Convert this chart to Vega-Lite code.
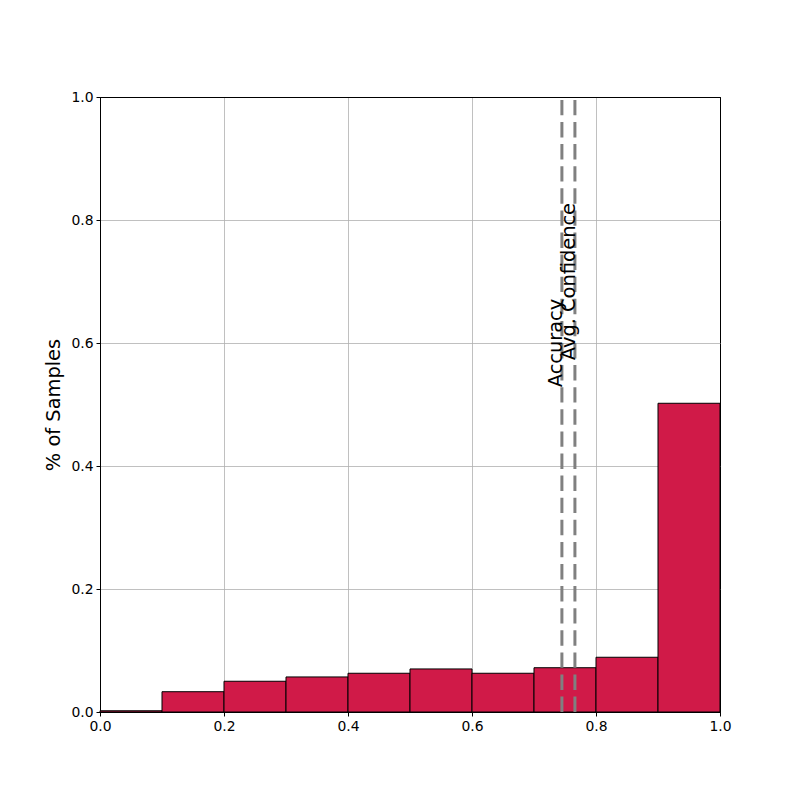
{
  "$schema": "https://vega.github.io/schema/vega-lite/v6.json",
  "autosize": {"type": "none"},
  "padding": {"left": 100, "top": 97, "right": 80, "bottom": 88},
  "width": 620,
  "height": 615,
  "background": "white",
  "config": {
    "font": "DejaVu Sans",
    "view": {"stroke": "black", "strokeWidth": 1},
    "axis": {
      "labelFont": "DejaVu Sans",
      "labelFontSize": 13.9,
      "labelColor": "black",
      "labelFlush": false,
      "tickColor": "black",
      "tickSize": 4,
      "labelPadding": 3,
      "domainColor": "black",
      "gridColor": {"condition": {"test": "datum.value == 0 || datum.value == 1", "value": "black"}, "value": "#b0b0b0"},
      "gridWidth": {"condition": {"test": "datum.value == 0 || datum.value == 1", "value": 1}, "value": 0.8},
      "titleFont": "DejaVu Sans",
      "titleFontSize": 19.4,
      "titleFontWeight": "normal",
      "titleColor": "black",
      "zindex": 1
    }
  },
  "datasets": {
    "bins": [
      {"bin_start": 0.0, "bin_end": 0.1, "frac": 0.002},
      {"bin_start": 0.1, "bin_end": 0.2, "frac": 0.033},
      {"bin_start": 0.2, "bin_end": 0.3, "frac": 0.050},
      {"bin_start": 0.3, "bin_end": 0.4, "frac": 0.057},
      {"bin_start": 0.4, "bin_end": 0.5, "frac": 0.063},
      {"bin_start": 0.5, "bin_end": 0.6, "frac": 0.070},
      {"bin_start": 0.6, "bin_end": 0.7, "frac": 0.063},
      {"bin_start": 0.7, "bin_end": 0.8, "frac": 0.072},
      {"bin_start": 0.8, "bin_end": 0.9, "frac": 0.089},
      {"bin_start": 0.9, "bin_end": 1.0, "frac": 0.502}
    ],
    "lines": [
      {"value": 0.745, "label": "Accuracy", "ypos": 0.528},
      {"value": 0.766, "label": "Avg. Confidence", "ypos": 0.572}
    ]
  },
  "layer": [
    {
      "data": {"name": "bins"},
      "mark": {"type": "rect", "fill": "#d01a48", "stroke": "black", "strokeWidth": 1},
      "encoding": {
        "x": {
          "field": "bin_start", "type": "quantitative",
          "scale": {"domain": [0, 1], "nice": false, "zero": false},
          "axis": {"values": [0, 0.2, 0.4, 0.6, 0.8, 1.0], "format": ".1f", "title": null, "grid": true}
        },
        "x2": {"field": "bin_end"},
        "y": {
          "field": "frac", "type": "quantitative",
          "scale": {"domain": [0, 1], "nice": false},
          "axis": {"values": [0, 0.2, 0.4, 0.6, 0.8, 1.0], "format": ".1f", "title": "% of Samples", "grid": true, "titlePadding": 7}
        },
        "y2": {"datum": 0}
      }
    },
    {
      "data": {"name": "lines"},
      "mark": {"type": "rule", "color": "#808080", "strokeWidth": 3, "strokeDash": [15.4, 6.7]},
      "encoding": {
        "x": {"field": "value", "type": "quantitative"},
        "y": {"datum": 0, "type": "quantitative"},
        "y2": {"datum": 1}
      }
    },
    {
      "data": {"name": "lines"},
      "mark": {"type": "text", "angle": 270, "align": "left", "baseline": "alphabetic", "fontSize": 19.4, "color": "black", "font": "DejaVu Sans"},
      "encoding": {
        "x": {"field": "value", "type": "quantitative"},
        "y": {"field": "ypos", "type": "quantitative"},
        "text": {"field": "label"}
      }
    }
  ]
}
